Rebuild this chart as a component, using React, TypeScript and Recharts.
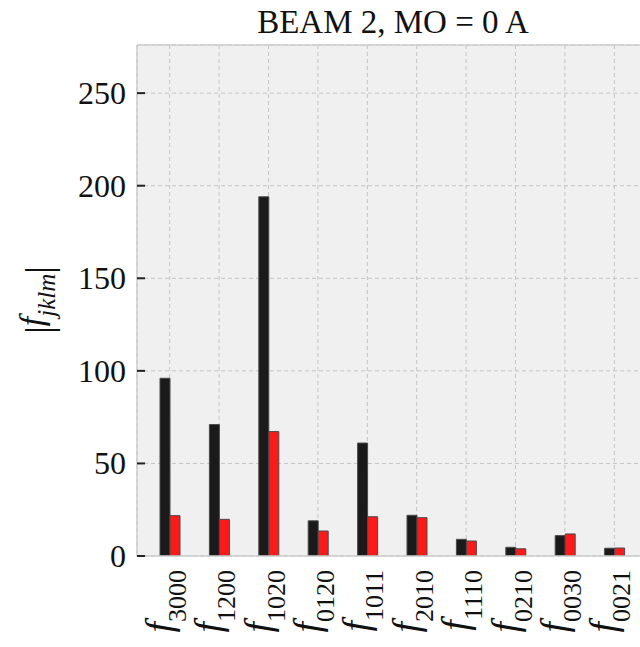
import React from 'react';
import { BarChart, Bar, XAxis, YAxis, CartesianGrid, ReferenceLine } from 'recharts';

const categories = ['3000', '1200', '1020', '0120', '1011', '2010', '1110', '0210', '0030', '0021'];
const blackValues = [96, 71, 194, 19, 61, 22, 9, 4.7, 11, 4.2];
const redValues = [21.8, 19.8, 67.2, 13.5, 21.2, 20.7, 8.1, 3.9, 11.9, 4.3];
const yTicks = [0, 50, 100, 150, 200, 250];
const yMax = 276;
const title = 'BEAM 2, MO = 0 A';

const data = categories.map((c, i) => ({ name: c, black: blackValues[i], red: redValues[i] }));

const FONT = "'Liberation Serif', 'DejaVu Serif', serif";
const fontStyle = { fontFamily: FONT };

const YTick = (props: any) => {
  const { x, y, payload } = props;
  return (
    <g>
      <line x1={x + 11} x2={x + 19} y1={y} y2={y} stroke="#222" strokeWidth={2} />
      <text x={x} y={y} dy="0.34em" textAnchor="end" style={fontStyle} fontSize={32} fill="#111">
        {payload.value}
      </text>
    </g>
  );
};

const XTick = (props: any) => {
  const { x, y, payload } = props;
  return (
    <g transform={`translate(${x},${y})`}>
      <text transform="rotate(-90)" x={-14} y={2} textAnchor="end" style={fontStyle} fill="#111">
        <tspan fontStyle="italic" fontSize={38}>f</tspan>
        <tspan fontSize={26} dy={14}>{payload.value}</tspan>
      </text>
    </g>
  );
};

export default function App() {
  return (
    <div style={{ position: 'fixed', left: 0, top: 0, width: 640, height: 647, overflow: 'hidden', background: '#fff', fontFamily: FONT }}>
      <BarChart
        width={660}
        height={647}
        data={data}
        margin={{ top: 45, right: 13, bottom: 0, left: 0 }}
        barGap={0}
      >
        <CartesianGrid fill="#f0f0f0" stroke="#c4c4c4" strokeDasharray="4 3" strokeWidth={1} />
        <XAxis
          dataKey="name"
          interval={0}
          tickLine={false}
          tickSize={0}
          tickMargin={0}
          height={91}
          axisLine={{ stroke: '#cccccc', strokeWidth: 1.5 }}
          padding={{ left: 8, right: 8 }}
          tick={<XTick />}
        />
        <YAxis
          width={137}
          domain={[0, yMax]}
          ticks={yTicks}
          allowDataOverflow
          tickLine={false}
          tickSize={0}
          tickMargin={11}
          axisLine={{ stroke: '#cccccc', strokeWidth: 1.5 }}
          tick={<YTick />}
        />
        <ReferenceLine y={yMax} stroke="#cccccc" strokeWidth={1.5} />
        <Bar dataKey="black" fill="#1a1a1a" stroke="#4a4a4a" strokeWidth={1} barSize={10} isAnimationActive={false} />
        <Bar dataKey="red" fill="#fa1a1a" stroke="#4a4a4a" strokeWidth={1} barSize={10} isAnimationActive={false} />
      </BarChart>
      <svg width={640} height={647} style={{ position: 'absolute', left: 0, top: 0, pointerEvents: 'none' }}>
        <text x={393} y={33} textAnchor="middle" style={fontStyle} fontSize={33} fill="#111">
          {title}
        </text>
        <text transform="translate(42,300) rotate(-90)" x={0} y={10} textAnchor="middle" style={fontStyle} fill="#111">
          <tspan fontSize={38}>|</tspan>
          <tspan fontSize={34} fontStyle="italic" dy={-9}>f</tspan>
          <tspan fontSize={25} fontStyle="italic" dy={12}>jklm</tspan>
          <tspan fontSize={38} dy={-3}>|</tspan>
        </text>
      </svg>
    </div>
  );
}
